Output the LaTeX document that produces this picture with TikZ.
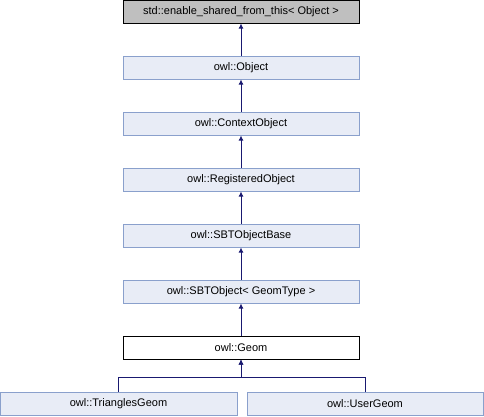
\documentclass[tikz,border=0pt]{standalone}
\usepackage{fontspec}
\setmainfont{Liberation Sans}
\usetikzlibrary{arrows.meta}
\definecolor{owlfill}{RGB}{232, 236, 246}
\definecolor{owlline}{RGB}{138, 160, 204}
\definecolor{owlgray}{RGB}{191, 191, 191}
\definecolor{owledge}{RGB}{25, 25, 112}

\tikzset{
  classbox/.style={draw=owlline, fill=owlfill, line width=1pt, minimum width=236pt,
    minimum height=23pt, inner sep=0pt, font=\fontsize{11}{13}\selectfont},
  basebox/.style={classbox, draw=black, fill=owlgray},
  mainbox/.style={classbox, draw=black, fill=white},
  inherit/.style={draw=owledge, line width=1pt, {Latex[length=5pt,width=5pt]}-}
}

\begin{document}
\begin{tikzpicture}[x=1pt, y=-1pt]
    \useasboundingbox (0,0) rectangle (484,416);

    %% class chain
    \node[basebox] (shared) at (241, 11.5) {std::enable\_shared\_from\_this< Object >};
    \node[classbox] (object) at (241, 67.5) {owl::Object};
    \node[classbox] (context) at (241, 123.5) {owl::ContextObject};
    \node[classbox] (registered) at (241, 179.5) {owl::RegisteredObject};
    \node[classbox] (sbtbase) at (241, 235.5) {owl::SBTObjectBase};
    \node[classbox] (sbtobj) at (241, 291.5) {owl::SBTObject< GeomType >};
    \node[mainbox] (geom) at (241, 347.5) {owl::Geom};

    %% derived classes
    \node[classbox, minimum width=237pt] (triangles) at (118.5, 403.5) {owl::TrianglesGeom};
    \node[classbox] (user) at (365, 403.5) {owl::UserGeom};

    %% inheritance edges
    \draw[inherit] (shared.south) -- (object.north);
    \draw[inherit] (object.south) -- (context.north);
    \draw[inherit] (context.south) -- (registered.north);
    \draw[inherit] (registered.south) -- (sbtbase.north);
    \draw[inherit] (sbtbase.south) -- (sbtobj.north);
    \draw[inherit] (sbtobj.south) -- (geom.north);

    \coordinate (split) at (241, 377);
    \draw[inherit] (geom.south) -- (split) -| (triangles.north);
    \draw[inherit] (geom.south) -- (split) -| (user.north);
  \end{tikzpicture}
\end{document}
